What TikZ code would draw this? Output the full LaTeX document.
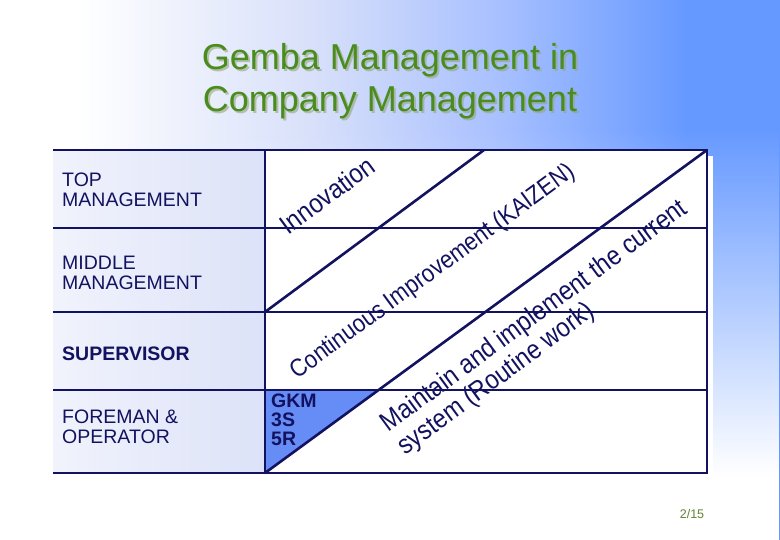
\documentclass[tikz,border=0pt]{standalone}
\usepackage{fontspec}
\setmainfont{Liberation Sans}
\newfontfamily\flowfont{Liberation Sans}[FakeStretch=0.88]
\usetikzlibrary{calc,fadings}

\definecolor{navy}{RGB}{18,18,96}
\definecolor{gkmblue}{RGB}{102,140,245}
\definecolor{leafgreen}{RGB}{74,140,30}
\definecolor{leafshadow}{RGB}{150,165,120}
\definecolor{pagegreen}{RGB}{100,130,50}
\definecolor{skymid}{RGB}{216,224,250}
\definecolor{skylight}{RGB}{168,192,255}
\definecolor{skyblue}{RGB}{102,153,255}
\definecolor{colleft}{RGB}{241,243,252}
\definecolor{colright}{RGB}{220,226,248}
\pgfdeclarehorizontalshading{skyshade}{100bp}{color(0bp)=(white); color(25bp)=(white); color(30bp)=(white); color(45bp)=(skymid); color(57bp)=(skylight); color(69bp)=(skyblue); color(100bp)=(skyblue)}
\pgfdeclareverticalshading{skyfadeshade}{100bp}{color(0bp)=(transparent!0); color(31bp)=(transparent!0); color(47bp)=(transparent!50); color(63bp)=(transparent!100); color(100bp)=(transparent!100)}
\pgfdeclarefading{skyfade}{\pgfuseshading{skyfadeshade}}

\begin{document}
\begin{tikzpicture}[x=1pt,y=-1pt]
\tikzset{rule/.style={draw=navy,line width=2.6pt}}
\tikzset{rank/.style={anchor=west,inner sep=0pt,align=left,text=navy,font=\fontsize{19.5}{20}\selectfont}}
\tikzset{flow/.style={rotate=36.3,inner sep=0pt,text=navy,font=\flowfont\fontsize{#1}{28}\selectfont},flow/.default=25}
\tikzset{headline/.style={anchor=base,inner sep=0pt,font=\fontsize{36}{42}\selectfont}}
\useasboundingbox (0,0) rectangle (780,540);
% slide background
\shade[shading=skyshade] (0,0) rectangle (780,540);
\fill[white,path fading=skyfade] (0,0) rectangle (780,540);
% table corners
\coordinate (tl) at (53,150);
\coordinate (tr) at (707,150);
\coordinate (bl) at (53,473);
\coordinate (br) at (707,473);
\coordinate (ct) at (265,150);
\coordinate (cb) at (265,473);
\coordinate (d1s) at (265,312);
\coordinate (d1e) at (484,150);
\coordinate (g1) at (265,390);
\coordinate (g2) at ($(cb)!0.257!(tr)$);
% fills
\fill[white] ($(ct)+(6,6)$) rectangle ($(br)+(6,6)$);
\shade[left color=colleft,right color=colright] (tl) rectangle (cb);
\fill[white] (ct) rectangle (br);
\fill[gkmblue] (g1) -- (g2) -- (cb) -- cycle;
% grid
\draw[rule] (tl) -- (tr) -- (br) -- (bl);
\draw[rule] (ct) -- (cb);
\foreach \y [count=\i] in {228,312,390} {
  \coordinate (w\i) at (53,\y);
  \coordinate (e\i) at (707,\y);
  \draw[rule] (w\i) -- (e\i);
}
\draw[rule] (d1s) -- (d1e);
\draw[rule] (cb) -- (tr);
% title
\node[headline,text=leafshadow,opacity=0.6] (title1s) at (392,72) {Gemba Management in};
\node[headline,text=leafshadow,opacity=0.6] (title2s) at (392,114) {Company Management};
\node[headline,text=leafgreen] (title1) at (390,70) {Gemba Management in};
\node[headline,text=leafgreen] (title2) at (390,112) {Company Management};
% levels
\node[rank] (top) at (62,190) {TOP\\MANAGEMENT};
\node[rank] (middle) at (62,273) {MIDDLE\\MANAGEMENT};
\node[rank,font=\fontsize{19.5}{20}\selectfont\bfseries] (supervisor) at (62,354) {SUPERVISOR};
\node[rank] (foreman) at (62,427) {FOREMAN \&\\OPERATOR};
\node[anchor=north west,inner sep=0pt,align=left,text=navy,font=\fontsize{19.5}{19}\selectfont\bfseries] (gkm) at (271,394) {GKM\\3S\\5R};
% diagonal texts
\node[flow=27] (innovation) at (327,195) {Innovation};
\node[flow] (kaizen) at (433,272) {Continuous Improvement (KAIZEN)};
\node[flow=27,align=left] (routine) at (543,328) {Maintain and implement the current\\system (Routine work)};
% page number
\node[inner sep=0pt,text=pagegreen,font=\fontsize{12.5}{14}\selectfont] (page) at (692,514) {2/15};
\end{tikzpicture}
\end{document}
